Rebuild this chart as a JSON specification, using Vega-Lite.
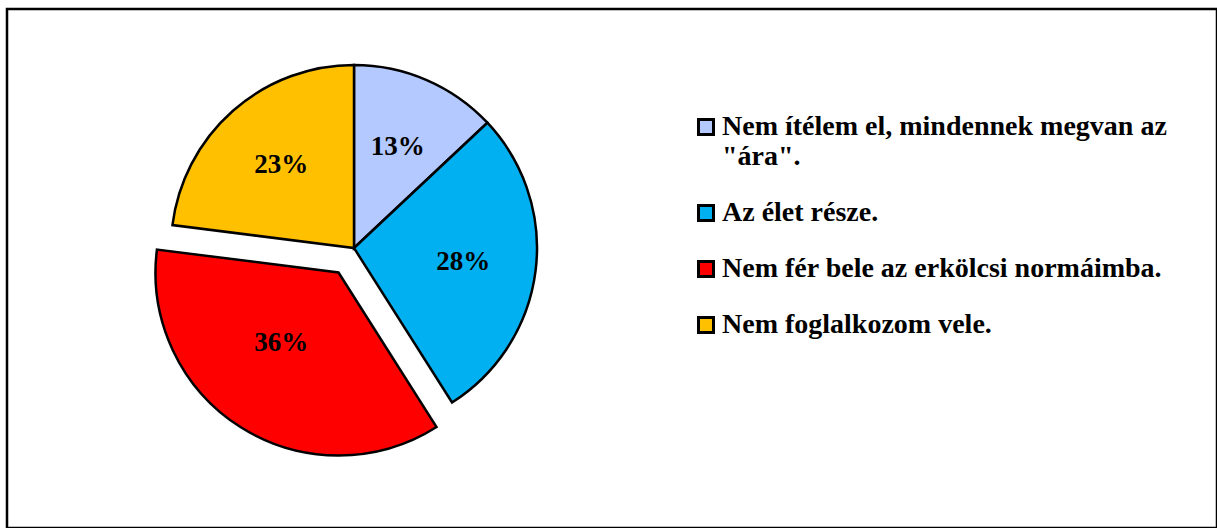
{
  "$schema": "https://vega.github.io/schema/vega-lite/v6.json",
  "width": 1210,
  "height": 519,
  "autosize": {"type": "none"},
  "padding": {"left": 7, "top": 9, "right": 0, "bottom": 0},
  "background": "white",
  "config": {"view": {"stroke": null}, "font": "Liberation Serif"},
  "data": {
    "values": [
      {"cat": "Nem ítélem el, mindennek megvan az \"ára\".", "value": 0.13},
      {"cat": "Az élet része.", "value": 0.28},
      {"cat": "Nem fér bele az erkölcsi normáimba.", "value": 0.36},
      {"cat": "Nem foglalkozom vele.", "value": 0.23}
    ]
  },
  "transform": [
    {"stack": "value", "groupby": [], "as": ["v0", "v1"]},
    {"calculate": "(datum.v0 + datum.v1) / 2", "as": "mid"}
  ],
  "layer": [
    {
      "transform": [{"aggregate": [{"op": "count", "as": "n"}]}],
      "mark": {"type": "rect", "fill": "white", "stroke": "black", "strokeWidth": 2.5},
      "encoding": {}
    },
    {
      "transform": [{"filter": "datum.cat !== 'Nem fér bele az erkölcsi normáimba.'"}],
      "mark": {"type": "arc", "radius": 183, "stroke": "black", "strokeWidth": 2.5, "x": 347, "y": 239},
      "encoding": {
        "theta": {"field": "v0", "type": "quantitative", "scale": {"domain": [0, 1]}},
        "theta2": {"field": "v1"},
        "color": {
          "field": "cat", "type": "nominal", "sort": null,
          "scale": {
            "domain": ["Nem ítélem el, mindennek megvan az \"ára\".", "Az élet része.", "Nem fér bele az erkölcsi normáimba.", "Nem foglalkozom vele."],
            "range": ["#B4C9FF", "#00B0F0", "#FF0000", "#FFC000"]
          },
          "legend": {
            "orient": "none", "legendX": 685, "legendY": 104, "title": null,
            "symbolType": "square", "symbolSize": 225, "symbolStrokeColor": "black", "symbolStrokeWidth": 3,
            "labelFont": "Liberation Serif", "labelFontSize": 28, "labelFontWeight": "bold", "labelColor": "black",
            "labelLimit": 800, "labelOffset": 2, "rowPadding": 28, "labelLineHeight": 30,
            "labelExpr": "indexof(datum.label, 'ára') >= 0 ? ['Nem ítélem el, mindennek megvan az', '\"ára\".'] : datum.label"
          }
        }
      }
    },
    {
      "transform": [{"filter": "datum.cat === 'Nem fér bele az erkölcsi normáimba.'"}],
      "mark": {"type": "arc", "radius": 183, "stroke": "black", "strokeWidth": 2.5, "x": 347, "y": 239, "xOffset": -15.5, "yOffset": 24.5},
      "encoding": {
        "theta": {"field": "v0", "type": "quantitative"},
        "theta2": {"field": "v1"},
        "color": {"field": "cat", "type": "nominal", "sort": null}
      }
    },
    {
      "transform": [{"filter": "datum.cat !== 'Nem fér bele az erkölcsi normáimba.'"}],
      "mark": {"type": "text", "radius": 110, "x": 347, "y": 239, "fontSize": 27, "fontWeight": "bold", "font": "Liberation Serif", "color": "black"},
      "encoding": {
        "theta": {"field": "mid", "type": "quantitative"},
        "text": {"field": "value", "type": "quantitative", "format": ".0%"}
      }
    },
    {
      "transform": [{"filter": "datum.cat === 'Nem fér bele az erkölcsi normáimba.'"}],
      "mark": {"type": "text", "radius": 88, "x": 347, "y": 239, "xOffset": -15.5, "yOffset": 24.5, "dx": -10, "dy": -4, "fontSize": 27, "fontWeight": "bold", "font": "Liberation Serif", "color": "black"},
      "encoding": {
        "theta": {"field": "mid", "type": "quantitative"},
        "text": {"field": "value", "type": "quantitative", "format": ".0%"}
      }
    }
  ]
}
